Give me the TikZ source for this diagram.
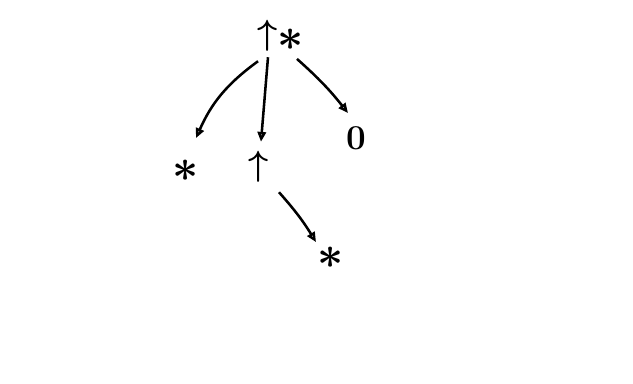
\documentclass[tikz,border=0pt]{standalone}
\usepackage{amsmath,amssymb}
\usetikzlibrary{arrows.meta}

\begin{document}
\begin{tikzpicture}[x=0.025cm,y=-0.025cm,
    lbl/.style={inner sep=1pt,font=\Huge\boldmath},
    star/.style={lbl,scale=1.3},
    edge/.style={line width=1.8pt,-{Triangle[open,length=7pt,width=6pt]}}]
  \useasboundingbox (0,0) rectangle (633,383);

  \node[lbl] (root) at (268,36) {$\uparrow$};
  \node[star] (rootst) at (291,40) {$\ast$};
  \node[star] (lft) at (186,171) {$\ast$};
  \node[lbl] (mid) at (259,167) {$\uparrow$};
  \node[lbl] (rgt) at (356,138) {$0$};
  \node[star] (leaf) at (331,258) {$\ast$};

  \draw[edge] ([shift={(-10,8)}]root.south) to[bend right=15] ([shift={(10,-20)}]lft.north);
  \draw[edge] ([shift={(0,4)}]root.south) -- ([shift={(2,-8)}]mid.north);
  \draw[edge] ([shift={(6,6)}]rootst.south) to[bend left=5] ([shift={(-8,-12)}]rgt.north);
  \draw[edge] ([shift={(20,8)}]mid.south) to[bend left=5] ([shift={(-15,-3)}]leaf.north);
\end{tikzpicture}
\end{document}
